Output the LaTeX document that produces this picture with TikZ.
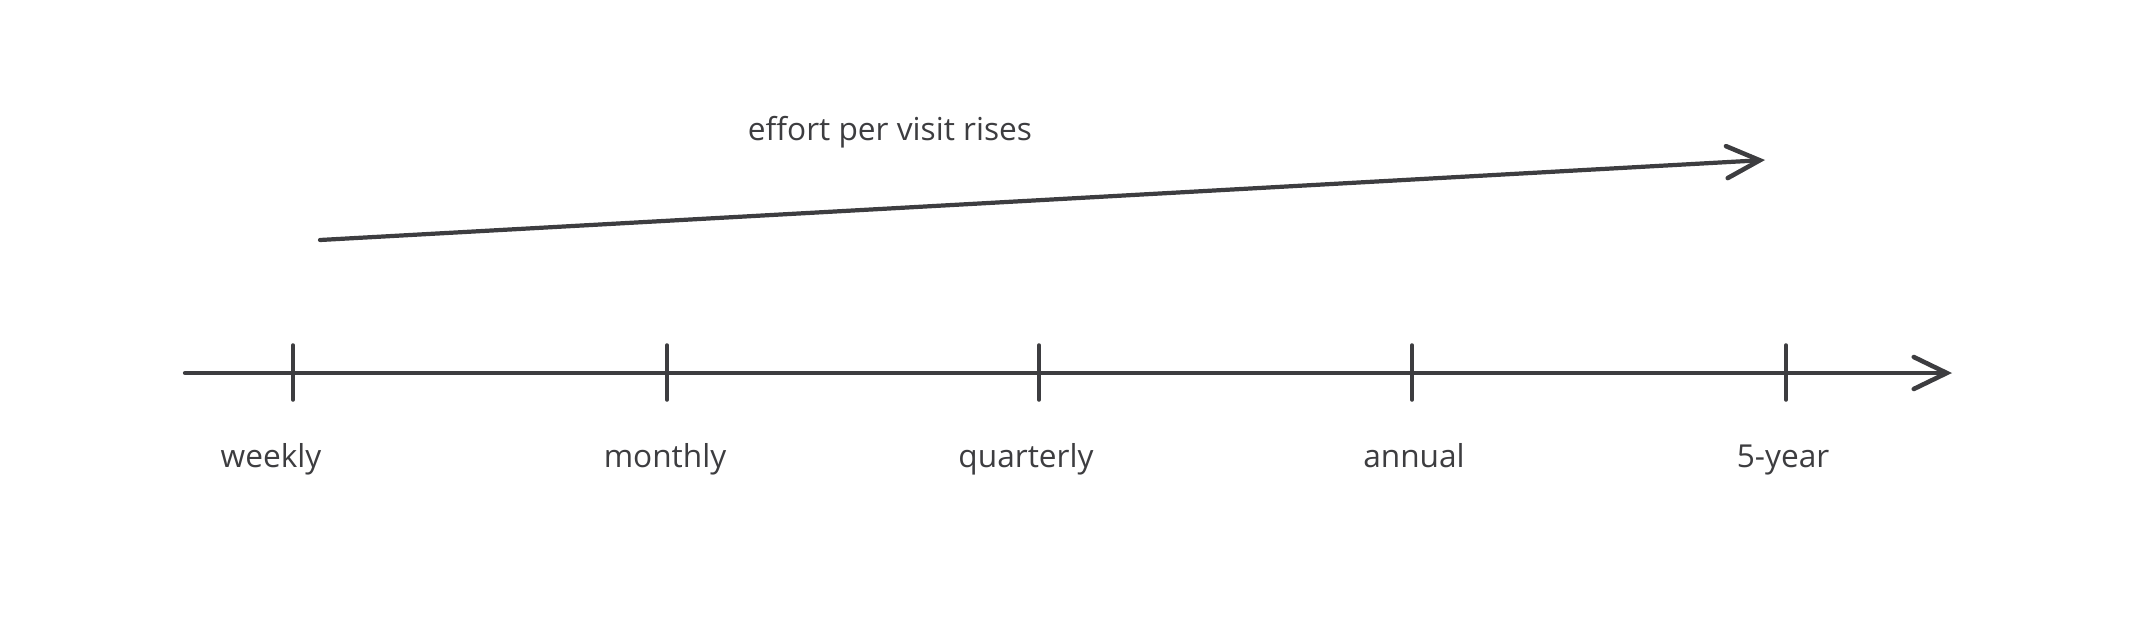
\documentclass[tikz,border=0pt]{standalone}
\usepackage{fontspec}
\setmainfont{Open Sans}
\usetikzlibrary{arrows.meta}
\definecolor{ink}{HTML}{3D3D40}
\begin{document}
\begin{tikzpicture}[line cap=round,
	axisline/.style={draw=ink,line width=1.2pt},
	tickline/.style={draw=ink,line width=1.0pt},
	barb/.style={-{Straight Barb[length=3.3mm,width=3.2mm,line width=1.3pt,line cap=round]}},
	lbl/.style={text=ink,font=\fontsize{9}{11}\selectfont,anchor=base,inner sep=0pt}]
\useasboundingbox (0,0) rectangle (21.33,6.40);
\coordinate (axstart) at (1.85,2.67);
\coordinate (axend) at (19.52,2.67);
\coordinate (effstart) at (3.20,4.00);
\coordinate (effend) at (17.65,4.80);
\coordinate (t1a) at (2.93,2.95);
\coordinate (t1b) at (2.93,2.40);
\coordinate (t2a) at (6.67,2.95);
\coordinate (t2b) at (6.67,2.40);
\coordinate (t3a) at (10.39,2.95);
\coordinate (t3b) at (10.39,2.40);
\coordinate (t4a) at (14.12,2.95);
\coordinate (t4b) at (14.12,2.40);
\coordinate (t5a) at (17.86,2.95);
\coordinate (t5b) at (17.86,2.40);
\draw[axisline,barb] (axstart)--(axend);
\draw[tickline] (t1a)--(t1b);
\draw[tickline] (t2a)--(t2b);
\draw[tickline] (t3a)--(t3b);
\draw[tickline] (t4a)--(t4b);
\draw[tickline] (t5a)--(t5b);
\draw[axisline,barb] (effstart)--(effend);
\node[lbl] (effort) at (8.90,5.00) {effort per visit rises};
\node[lbl] (weekly) at (2.71,1.73) {weekly};
\node[lbl] (monthly) at (6.65,1.73) {monthly};
\node[lbl] (quarterly) at (10.26,1.73) {quarterly};
\node[lbl] (annual) at (14.14,1.73) {annual};
\node[lbl] (fiveyear) at (17.83,1.73) {5-year};
\end{tikzpicture}
\end{document}
